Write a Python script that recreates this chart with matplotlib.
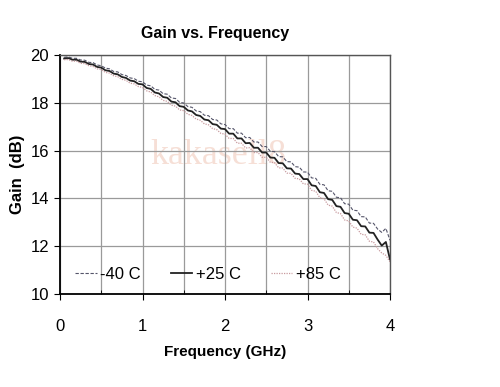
import matplotlib
matplotlib.use("Agg")
import matplotlib.pyplot as plt
from matplotlib.ticker import MultipleLocator

plt.rcParams["font.family"] = ["Liberation Sans", "DejaVu Sans"]

# frequency in GHz
freq = [0.05, 0.10, 0.15, 0.20, 0.25, 0.30, 0.35, 0.40, 0.45, 0.50,
        0.55, 0.60, 0.65, 0.70, 0.75, 0.80, 0.85, 0.90, 0.95, 1.00,
        1.05, 1.10, 1.15, 1.20, 1.25, 1.30, 1.35, 1.40, 1.45, 1.50,
        1.55, 1.60, 1.65, 1.70, 1.75, 1.80, 1.85, 1.90, 1.95, 2.00,
        2.05, 2.10, 2.15, 2.20, 2.25, 2.30, 2.35, 2.40, 2.45, 2.50,
        2.55, 2.60, 2.65, 2.70, 2.75, 2.80, 2.85, 2.90, 2.95, 3.00,
        3.05, 3.10, 3.15, 3.20, 3.25, 3.30, 3.35, 3.40, 3.45, 3.50,
        3.55, 3.60, 3.65, 3.70, 3.75, 3.80, 3.85, 3.90, 3.95, 4.00]

gain_m40 = [19.90, 19.92, 19.86, 19.86, 19.79, 19.78, 19.69, 19.68, 19.58, 19.55,
            19.45, 19.42, 19.31, 19.29, 19.18, 19.14, 19.04, 19.01, 18.90, 18.88,
            18.74, 18.71, 18.56, 18.53, 18.38, 18.36, 18.20, 18.18, 18.02, 17.99,
            17.84, 17.81, 17.66, 17.63, 17.48, 17.46, 17.30, 17.28, 17.12, 17.09,
            16.92, 16.92, 16.73, 16.73, 16.54, 16.55, 16.36, 16.36, 16.17, 16.17,
            15.97, 15.96, 15.75, 15.74, 15.54, 15.53, 15.33, 15.31, 15.11, 15.10,
            14.86, 14.84, 14.59, 14.57, 14.32, 14.30, 14.05, 14.03, 13.78, 13.76,
            13.51, 13.49, 13.24, 13.23, 12.97, 12.96, 12.72, 12.58, 12.75, 12.25]

gain_p25 = [19.85, 19.87, 19.80, 19.80, 19.72, 19.71, 19.62, 19.60, 19.50, 19.47,
            19.36, 19.33, 19.22, 19.19, 19.08, 19.04, 18.93, 18.90, 18.79, 18.77,
            18.62, 18.58, 18.43, 18.39, 18.24, 18.21, 18.05, 18.02, 17.86, 17.83,
            17.68, 17.64, 17.49, 17.45, 17.30, 17.27, 17.11, 17.08, 16.92, 16.90,
            16.71, 16.71, 16.51, 16.51, 16.31, 16.32, 16.12, 16.12, 15.92, 15.92,
            15.71, 15.70, 15.48, 15.47, 15.26, 15.25, 15.04, 15.02, 14.81, 14.81,
            14.55, 14.52, 14.26, 14.23, 13.97, 13.94, 13.68, 13.65, 13.39, 13.36,
            13.11, 13.09, 12.84, 12.83, 12.57, 12.56, 12.28, 12.03, 12.18, 11.45]

gain_p85 = [19.80, 19.81, 19.74, 19.74, 19.65, 19.64, 19.55, 19.52, 19.42, 19.39,
            19.27, 19.24, 19.13, 19.09, 18.98, 18.94, 18.82, 18.79, 18.68, 18.64,
            18.50, 18.45, 18.30, 18.25, 18.10, 18.06, 17.90, 17.86, 17.70, 17.67,
            17.52, 17.47, 17.32, 17.27, 17.12, 17.08, 16.92, 16.88, 16.72, 16.69,
            16.51, 16.51, 16.31, 16.31, 16.11, 16.12, 15.92, 15.92, 15.72, 15.72,
            15.51, 15.50, 15.28, 15.27, 15.06, 15.05, 14.84, 14.82, 14.61, 14.60,
            14.34, 14.30, 14.03, 13.99, 13.72, 13.68, 13.41, 13.37, 13.10, 13.06,
            12.80, 12.76, 12.50, 12.48, 12.21, 12.18, 11.90, 11.72, 11.62, 11.35]

labels = ["-40 C", "+25 C", "+85 C"]

fig = plt.figure(figsize=(5, 3.87), dpi=100)
ax = fig.add_axes([0.12, 0.24, 0.66, 0.618])

ax.plot(freq, gain_m40, color="#55556a", lw=0.8, ls=(0, (3, 1.5)), label=labels[0])
ax.plot(freq, gain_p25, color="#222222", lw=1.3, label=labels[1])
ax.plot(freq, gain_p85, color="#c89a9e", lw=0.9, ls=(0, (1, 1)), label=labels[2])

ax.set_xlim(0, 4)
ax.set_ylim(10, 20)
ax.xaxis.set_major_locator(MultipleLocator(1))
ax.xaxis.set_minor_locator(MultipleLocator(0.5))
ax.yaxis.set_major_locator(MultipleLocator(2))
ax.set_axisbelow(True)
ax.grid(True, which="both", axis="x", color="#9a9a9a", lw=0.9)
ax.grid(True, which="major", axis="y", color="#9a9a9a", lw=0.9)
ax.tick_params(axis="x", which="major", direction="out", length=4, pad=14, labelsize=12)
ax.tick_params(axis="x", which="minor", direction="in", length=3)
ax.tick_params(axis="y", direction="out", length=4, pad=4, labelsize=12)
for s in ("left", "bottom"):
    ax.spines[s].set_linewidth(1.3)
for s in ("top", "right"):
    ax.spines[s].set_color("#555555")
    ax.spines[s].set_linewidth(1.0)

ax.set_title("Gain vs. Frequency", fontsize=11.5, fontweight="bold", pad=12, x=0.47)
ax.set_xlabel("Frequency (GHz)", fontsize=11, fontweight="bold", labelpad=8)
ax.set_ylabel("Gain  (dB)", fontsize=12, fontweight="bold", labelpad=4)

ax.text(0.48, 0.58, "kakasell8", transform=ax.transAxes, ha="center", va="center",
        fontsize=26, family="Liberation Serif", color="#f6dfd6", zorder=0.5)

ax.legend(loc="lower left", ncol=3, frameon=False, fontsize=12,
          handlelength=1.3, handletextpad=0.2, columnspacing=1.8,
          bbox_to_anchor=(0.0, -0.01))

fig.savefig("out.png", dpi=100)
